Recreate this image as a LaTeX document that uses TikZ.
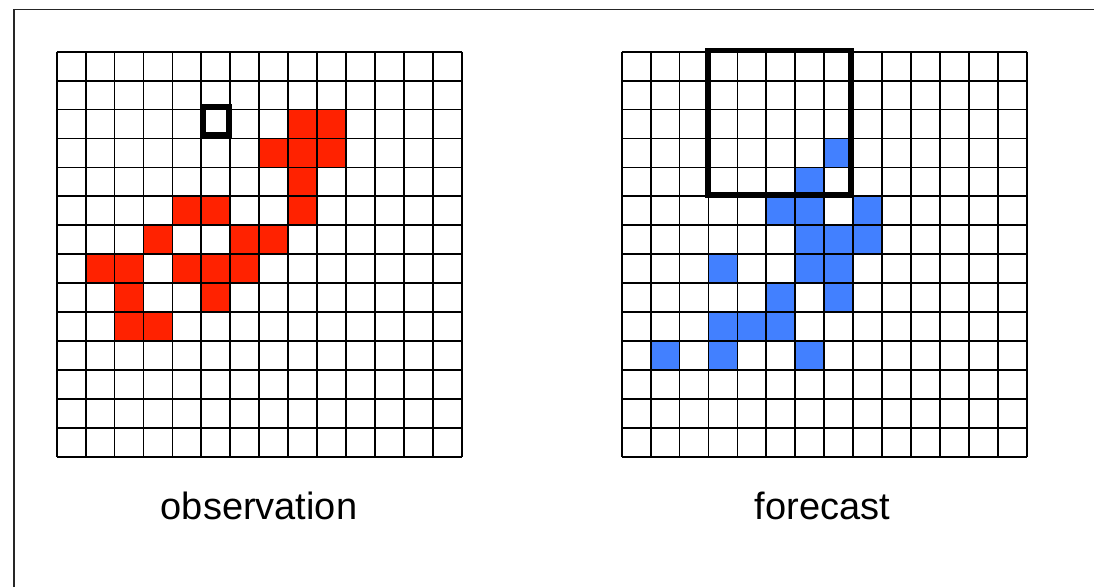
\documentclass[tikz,border=0pt]{standalone}
\usepackage{fontspec}
\setmainfont{Liberation Sans}
\definecolor{obsred}{RGB}{255,34,0}
\definecolor{fcblue}{RGB}{66,128,255}
\begin{document}
\begin{tikzpicture}[x=1pt,y=-1pt,
  gridline/.style={line width=1.8pt,black},
  framebox/.style={line width=1.8pt,black!85},
  thickbox/.style={line width=6pt,black},
  label/.style={anchor=base,inner sep=0pt,font=\fontsize{38}{42}\selectfont}]
\useasboundingbox (0,0) rectangle (1094,587);
\fill[white] (0,0) rectangle (1094,587);
\def\cs{28.93}
% frame
\draw[framebox] (14,587) -- (14,9.5) -- (1094,9.5);
% observation cells
\def\xa{56.7}\def\ya{51.7}
\foreach \c/\r in {8/2,9/2,7/3,8/3,9/3,8/4,4/5,5/5,8/5,3/6,6/6,7/6,1/7,2/7,4/7,5/7,6/7,2/8,5/8,2/9,3/9}
  \fill[obsred] ({\xa+\c*\cs},{\ya+\r*\cs}) rectangle +(\cs,\cs);
\foreach \i in {0,...,14} {
  \draw[gridline] ({\xa+\i*\cs},\ya) -- ({\xa+\i*\cs},{\ya+14*\cs});
  \draw[gridline] (\xa,{\ya+\i*\cs}) -- ({\xa+14*\cs},{\ya+\i*\cs});
}
\draw[thickbox] (203,107) rectangle (229,135);
% forecast cells
\def\xb{621.7}\def\yb{51.7}
\foreach \c/\r in {7/3,6/4,5/5,6/5,8/5,6/6,7/6,8/6,3/7,6/7,7/7,5/8,7/8,3/9,4/9,5/9,1/10,3/10,6/10}
  \fill[fcblue] ({\xb+\c*\cs},{\yb+\r*\cs}) rectangle +(\cs,\cs);
\foreach \i in {0,...,14} {
  \draw[gridline] ({\xb+\i*\cs},\yb) -- ({\xb+\i*\cs},{\yb+14*\cs});
  \draw[gridline] (\xb,{\yb+\i*\cs}) -- ({\xb+14*\cs},{\yb+\i*\cs});
}
\draw[thickbox,line width=5.5pt] (708,50.3) rectangle (851,195);
% labels
\node[label] (obs) at (259,519) {observation};
\node[label] (fc) at (822.5,519) {forecast};
\end{tikzpicture}
\end{document}
